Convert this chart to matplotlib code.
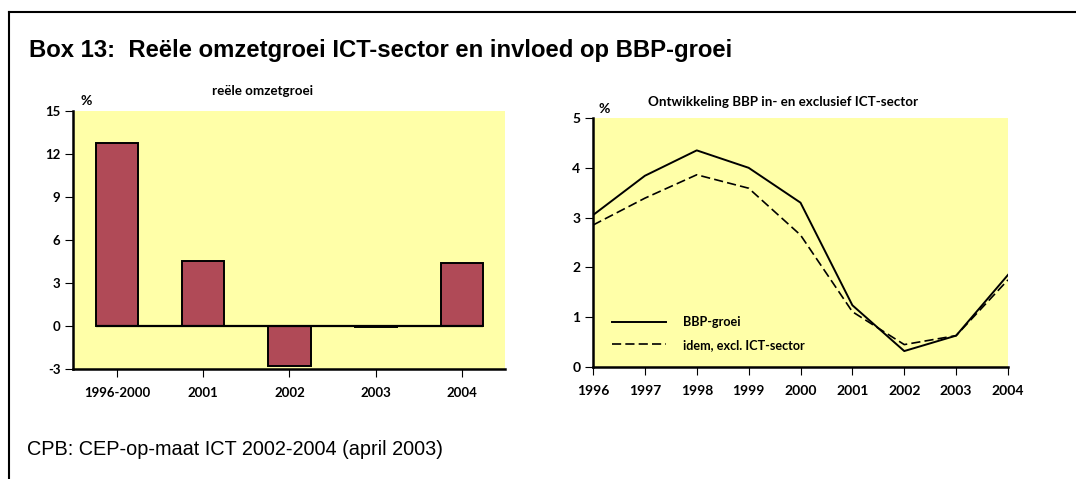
import matplotlib
matplotlib.use("Agg")
import matplotlib.pyplot as plt
from matplotlib.lines import Line2D
import numpy as np

# data
bar_labels = ["1996-2000", "2001", "2002", "2003", "2004"]
bar_values = [12.75, 4.55, -2.8, -0.1, 4.4]

years = [1996, 1997, 1998, 1999, 2000, 2001, 2002, 2003, 2004]
bbp_groei = [3.05, 3.84, 4.35, 4.0, 3.3, 1.24, 0.32, 0.63, 1.85]
bbp_excl_ict = [2.85, 3.39, 3.86, 3.59, 2.65, 1.11, 0.45, 0.63, 1.75]

W, H = 1076, 479
yellow = "#FFFFA8"
barcol = "#B04A57"
plt.rcParams["axes.unicode_minus"] = False

fig = plt.figure(figsize=(W / 100, H / 100), dpi=100)


def box(x0, y0, x1, y1):
    # pixel box (top-left origin) -> figure fraction rect
    return [x0 / W, (H - y1) / H, (x1 - x0) / W, (y1 - y0) / H]


def style_axes(ax, size):
    ax.set_facecolor(yellow)
    for s in ("top", "right"):
        ax.spines[s].set_visible(False)
    for s in ("left", "bottom"):
        ax.spines[s].set_linewidth(1.8)
    ax.tick_params(direction="out", length=6, width=0.8, pad=3)
    ax.tick_params(axis="x", pad=7)
    for lab in ax.get_xticklabels() + ax.get_yticklabels():
        lab.set_fontfamily("Lato")
        lab.set_fontweight("bold")
        lab.set_fontsize(size)


# left: bar chart
ax1 = fig.add_axes(box(73, 111, 505, 369))
xpos = np.arange(len(bar_labels))
bw = 0.49
ax1.bar(xpos, bar_values, width=bw, color=barcol, edgecolor="black", linewidth=1.4, zorder=2)
ax1.hlines(0, xpos[0] - bw / 2, xpos[-1] + bw / 2, color="black", linewidth=1.6, zorder=3)
ax1.set_xlim(-0.51, 4.5)
ax1.set_ylim(-3, 15)
ax1.set_yticks([-3, 0, 3, 6, 9, 12, 15])
ax1.set_xticks(xpos)
ax1.set_xticklabels(bar_labels)
style_axes(ax1, 9.5)

# right: line chart
ax2 = fig.add_axes(box(593, 118, 1008, 367))
ax2.plot(years, bbp_groei, color="black", linewidth=1.4, label="BBP-groei")
ax2.plot(years, bbp_excl_ict, color="black", linewidth=1.2, dashes=(5.5, 2.5),
         label="idem, excl. ICT-sector")
ax2.set_xlim(1996, 2004)
ax2.set_ylim(0, 5)
ax2.set_xticks(years)
ax2.set_yticks([0, 1, 2, 3, 4, 5])
style_axes(ax2, 10)
ax2.legend(loc="upper left", bbox_to_anchor=(0.046, 0.205), frameon=False,
           borderaxespad=0, borderpad=0, handlelength=4.3, handletextpad=1.35,
           labelspacing=0.85, prop=dict(family="Lato", weight="bold", size=9.1))

# subplot titles and unit labels
fig.text(263 / W, 1 - 91 / H, "reële omzetgroei", ha="center", va="center",
         family="Lato", weight="bold", size=9.6)
fig.text(783 / W, 1 - 101.5 / H, "Ontwikkeling BBP in- en exclusief ICT-sector",
         ha="center", va="center", family="Lato", weight="bold", size=9.6)
fig.text(86 / W, 1 - 101 / H, "%", ha="center", va="center", family="Lato", weight="bold", size=10)
fig.text(604 / W, 1 - 109 / H, "%", ha="center", va="center", family="Lato", weight="bold", size=10)

# box title and source
fig.text(29 / W, 1 - 57 / H, "Box 13:  Reële omzetgroei ICT-sector en invloed op BBP-groei",
         ha="left", va="baseline", family="Liberation Sans", weight="bold", size=17.2)
fig.text(27 / W, 1 - 455 / H, "CPB: CEP-op-maat ICT 2002-2004 (april 2003)",
         ha="left", va="baseline", family="Liberation Sans", size=14.3)

# frame of the box (open at right and bottom, as cropped)
fig.add_artist(Line2D([9 / W, 9 / W], [0, 1 - 12 / H], color="black", linewidth=1.5))
fig.add_artist(Line2D([9 / W, 1], [1 - 12 / H, 1 - 12 / H], color="black", linewidth=1.5))

fig.savefig("out.png", dpi=100)
